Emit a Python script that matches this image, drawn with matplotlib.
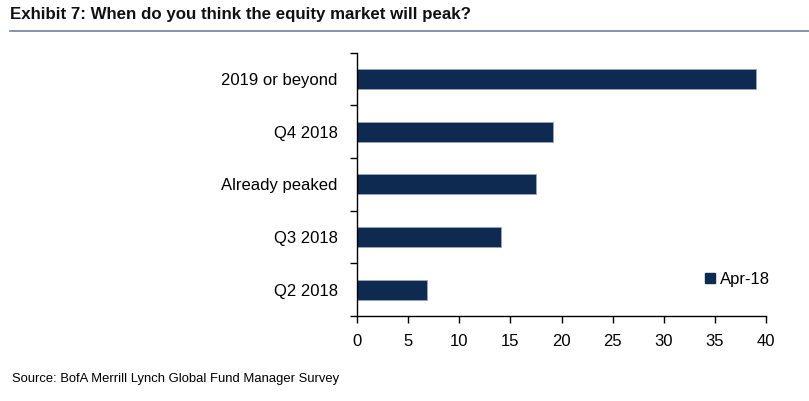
import matplotlib
matplotlib.use("Agg")
import matplotlib.pyplot as plt
from matplotlib.lines import Line2D
import numpy as np

categories = ["Q2 2018", "Q3 2018", "Already peaked", "Q4 2018", "2019 or beyond"]
values = [6.8, 14.1, 17.5, 19.2, 39.0]
series_name = "Apr-18"
xticks = [0, 5, 10, 15, 20, 25, 30, 35, 40]

plt.rcParams['font.family'] = ['Liberation Sans', 'DejaVu Sans']
bar_color = "#0e2a50"

fig = plt.figure(figsize=(8.09, 4.01), dpi=100)
ax = fig.add_axes([357/809, 1-316/401, (766-357)/809, (316-52.7)/401])

y = np.arange(len(categories))
ax.barh(y, values, height=0.38, color=bar_color, edgecolor="#9aa7bb", linewidth=0.6, label=series_name)
ax.set_xlim(0, 40)
ax.set_ylim(-0.5, len(categories) - 0.5)
ax.set_xticks(xticks)
ax.set_xticklabels([str(t) for t in xticks], fontsize=12)
ax.set_yticks(y)
ax.set_yticklabels(categories, fontsize=12)
ax.tick_params(axis='y', length=0, pad=14)
ax.set_yticks(np.arange(len(categories) + 1) - 0.5, minor=True)
ax.tick_params(axis='y', which='minor', length=5, width=1, direction='out')
ax.tick_params(axis='x', length=5, width=1, direction='out', pad=8)
for s in ['top', 'right']:
    ax.spines[s].set_visible(False)
for s in ['left', 'bottom']:
    ax.spines[s].set_linewidth(1)

ax.legend(handles=[Line2D([], [], marker='s', linestyle='none', color=bar_color, markersize=6.5)],
          labels=[series_name], loc='lower right', bbox_to_anchor=(1.027, 0.085),
          frameon=False, fontsize=12, handletextpad=0.0, handlelength=1.2, borderaxespad=0)

fig.text(10/809, 1-15/401, "Exhibit 7: When do you think the equity market will peak?",
         fontsize=12.2, fontweight='bold',
         va='center', ha='left', color="#111111")
fig.add_artist(Line2D([10/809, 1.0], [1-31/401, 1-31/401], color="#6f81a3", linewidth=1.2))

fig.text(12/809, 1-379/401, "Source: BofA Merrill Lynch Global Fund Manager Survey",
         fontsize=9.4, va='center', ha='left')

fig.savefig("out.png", dpi=100)
